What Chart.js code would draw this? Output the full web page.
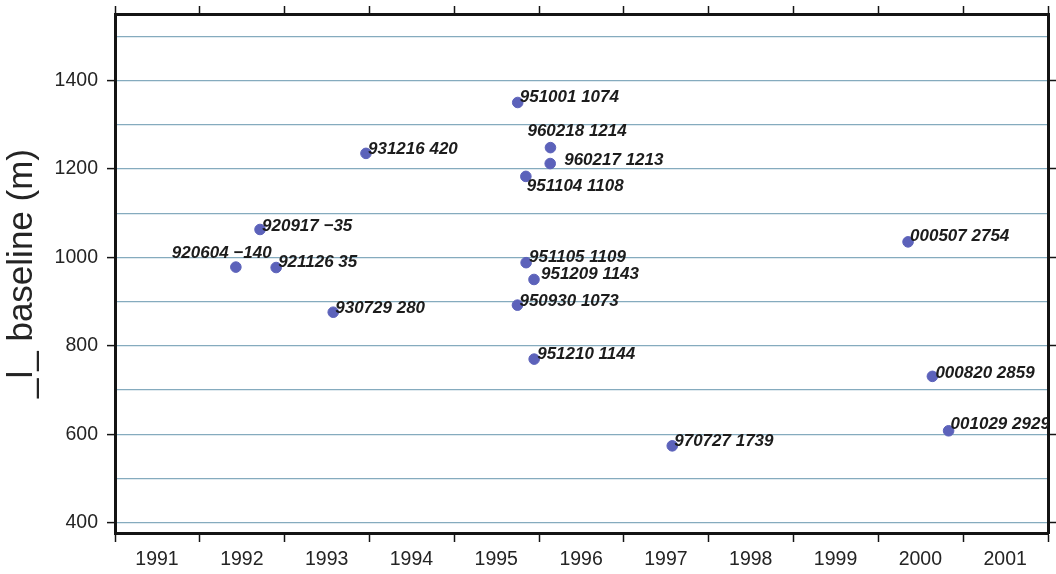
<!DOCTYPE html>
<html>
<head>
<meta charset="utf-8">
<title>Baseline vs time</title>
<script src="https://cdn.jsdelivr.net/npm/chart.js@4.4.1/dist/chart.umd.min.js"></script>
<style>
  html, body { margin: 0; padding: 0; background: #fff; }
  #wrap { width: 1056px; height: 574px; }
</style>
</head>
<body>
<div id="wrap"><canvas id="chart" width="1056" height="574"></canvas></div>
<script>
// acquisition dates (yymmdd) and orbit numbers, as printed next to each point
const dates = ['920604', '920917', '921126', '930729', '931216', '950930', '951001', '951104',
  '951105', '951209', '951210', '960217', '960218', '970727', '000507', '000820', '001029'];
const orbits = [-140, -35, 35, 280, 420, 1073, 1074, 1108, 1109, 1143, 1144, 1213, 1214, 1739, 2754, 2859, 2929];
// decimal year of each acquisition
const years = [1992.425, 1992.71, 1992.90, 1993.573, 1993.959, 1995.745, 1995.748, 1995.844,
  1995.847, 1995.94, 1995.942, 1996.131, 1996.134, 1997.57, 2000.35, 2000.637, 2000.828];
// perpendicular baseline (m)
const baselines = [978, 1063, 977, 876, 1235, 892, 1350, 1183, 988, 950, 770, 1212, 1248, 574, 1035, 731, 608];
const yearTicks = [1991, 1992, 1993, 1994, 1995, 1996, 1997, 1998, 1999, 2000, 2001];
const baselineTicks = [400, 500, 600, 700, 800, 900, 1000, 1100, 1200, 1300, 1400, 1500];

// where each text sits relative to its dot (px)
const labelOffsets = [[-64, -15], [2, -4], [2, -6], [2, -5], [2, -5], [2, -5], [2, -6], [1, 9],
  [3, -6], [7, -6], [3, -6], [14, -4], [-23, -17], [2, -6], [2, -7], [3, -4], [2, -7]];

const labels = dates.map((d, i) => d + ' ' + String(orbits[i]).replace('-', '\u2212'));

const gridColor = '#85abbe';
const axisColor = '#141414';
const textColor = '#242424';

const pointLabels = {
  id: 'pointLabels',
  afterDatasetsDraw(chart) {
    const ctx = chart.ctx;
    const area = chart.chartArea;
    const meta = chart.getDatasetMeta(0);
    ctx.save();
    ctx.beginPath();
    ctx.rect(area.left, area.top, area.right - area.left, area.bottom - area.top);
    ctx.clip();
    ctx.font = 'italic bold 17px "Liberation Sans", Arial, sans-serif';
    ctx.fillStyle = '#1c1c1c';
    ctx.textBaseline = 'middle';
    ctx.textAlign = 'left';
    meta.data.forEach((pt, i) => {
      const off = labelOffsets[i];
      ctx.fillText(labels[i], pt.x + off[0], pt.y + off[1] + 1);
    });
    ctx.restore();
  }
};

const isMajor = v => Math.round(v) % 200 === 0;
const yearTickList = s => { s.ticks = yearTicks.concat([2002]).map(v => ({ value: v })); };
const baseTickList = s => { s.ticks = baselineTicks.map(v => ({ value: v })); };
const noPad = s => { s.paddingTop = 0; s.paddingBottom = 0; };

new Chart(document.getElementById('chart').getContext('2d'), {
  type: 'scatter',
  data: {
    datasets: [{
      data: years.map((y, i) => ({ x: y, y: baselines[i] })),
      backgroundColor: '#5c62ba',
      borderColor: '#5c62ba',
      pointRadius: 5.3,
      pointHoverRadius: 5.3
    }]
  },
  options: {
    responsive: false,
    animation: false,
    devicePixelRatio: 1,
    layout: { padding: 0 },
    plugins: {
      legend: { display: false },
      tooltip: { enabled: false }
    },
    scales: {
      x: {
        type: 'linear',
        position: 'bottom',
        min: 1991,
        max: 2002,
        afterBuildTicks: yearTickList,
        afterFit: s => { s.height = 41; },
        ticks: {
          autoSkip: false,
          maxRotation: 0,
          labelOffset: 42,
          padding: 6,
          color: textColor,
          font: { family: '"Liberation Sans", Arial, sans-serif', size: 19.5 },
          callback: v => (yearTicks.includes(v) ? String(v) : '')
        },
        grid: { drawOnChartArea: false, drawTicks: true, tickLength: 9, tickColor: axisColor, tickWidth: 1.5 },
        border: { display: true, color: axisColor, width: 3 }
      },
      x2: {
        type: 'linear',
        position: 'top',
        min: 1991,
        max: 2002,
        afterBuildTicks: yearTickList,
        afterFit: s => { s.height = 14; },
        ticks: { display: false },
        grid: { drawOnChartArea: false, drawTicks: true, tickLength: 8, tickColor: axisColor, tickWidth: 1.5 },
        border: { display: true, color: axisColor, width: 3 }
      },
      y: {
        type: 'linear',
        position: 'left',
        min: 377,
        max: 1550,
        afterBuildTicks: baseTickList,
        afterFit: s => { s.width = 115; noPad(s); },
        title: {
          display: true,
          text: '_l_ baseline (m)',
          color: textColor,
          font: { family: '"Liberation Sans", Arial, sans-serif', size: 35 },
          padding: { top: 1, bottom: 0 }
        },
        ticks: {
          padding: 9,
          color: textColor,
          font: { family: '"Liberation Sans", Arial, sans-serif', size: 19.5 },
          callback: v => (isMajor(v) ? String(v) : '')
        },
        grid: {
          drawOnChartArea: true,
          drawTicks: true,
          tickLength: 8,
          lineWidth: 1.2,
          color: gridColor,
          tickColor: c => (isMajor(c.tick.value) ? axisColor : 'rgba(0,0,0,0)'),
          tickWidth: 1.5
        },
        border: { display: true, color: axisColor, width: 3 }
      },
      y2: {
        type: 'linear',
        position: 'right',
        min: 377,
        max: 1550,
        afterBuildTicks: baseTickList,
        afterFit: s => { s.width = 8; noPad(s); },
        ticks: { display: false },
        grid: {
          drawOnChartArea: false,
          drawTicks: true,
          tickLength: 8,
          tickColor: c => (isMajor(c.tick.value) ? axisColor : 'rgba(0,0,0,0)'),
          tickWidth: 1.5
        },
        border: { display: true, color: axisColor, width: 3 }
      }
    }
  },
  plugins: [pointLabels]
});
</script>
</body>
</html>
